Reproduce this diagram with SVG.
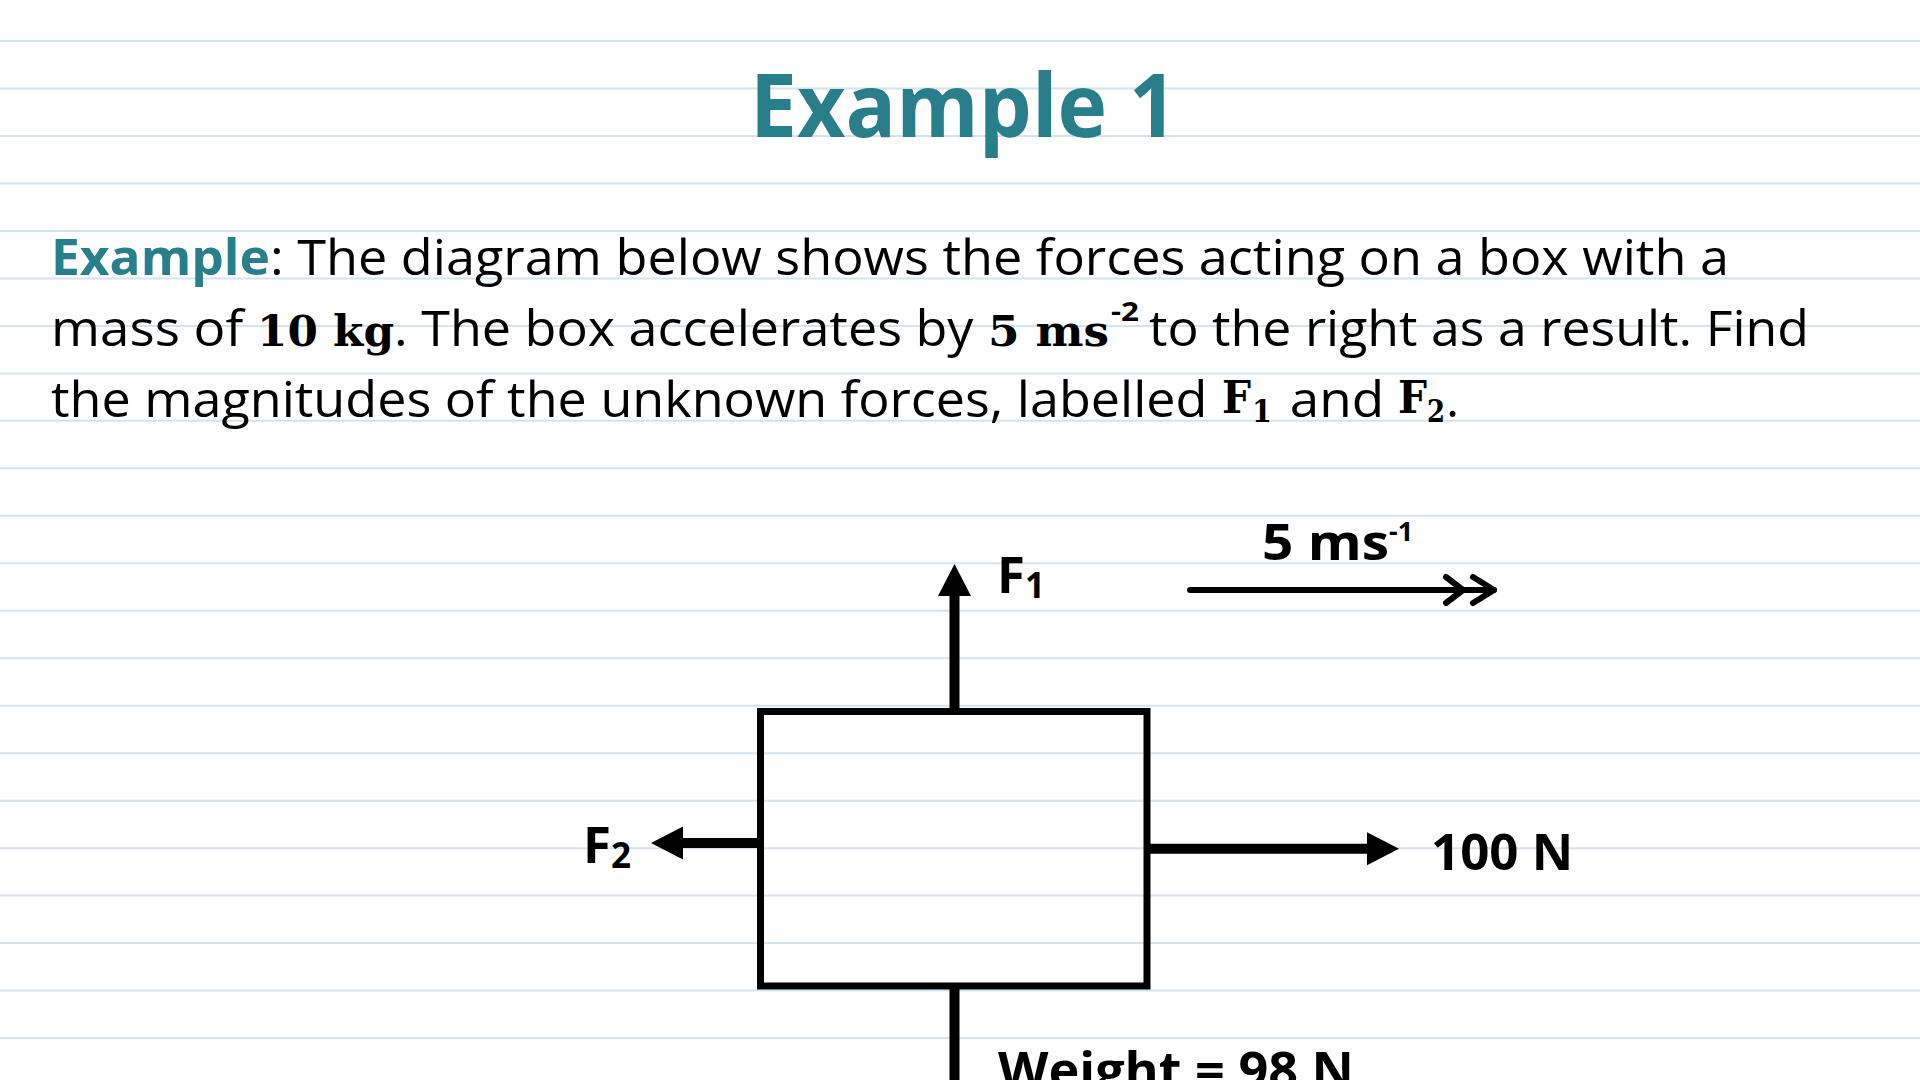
<svg xmlns="http://www.w3.org/2000/svg" width="1920" height="1080" viewBox="0 0 1920 1080">
<defs>
<style>
.rule{stroke:#d3e4ef;stroke-width:2;}
.sans{font-family:'Open Sans','Liberation Sans',sans-serif;fill:#000;white-space:pre;}
.bold{font-weight:700;}
.teal{fill:#287f8b;}
.serif{font-family:'DejaVu Serif','Liberation Serif',serif;font-weight:700;fill:#000;}
.body{font-size:50px;}
.lbl{font-family:'Open Sans','Liberation Sans',sans-serif;font-weight:700;font-size:51px;fill:#000;}
.sup{font-size:27px;}
.box{fill:none;stroke:#000;stroke-width:7;}
.force{stroke:#000;stroke-width:10;fill:none;}
.vel{stroke:#000;stroke-width:6;fill:none;stroke-linecap:round;stroke-linejoin:round;}
</style>
<marker id="head" markerUnits="userSpaceOnUse" markerWidth="34" markerHeight="34" refX="0" refY="16.5" orient="auto" overflow="visible">
<path d="M0,0 L32,16.5 L0,33 Z" fill="#000"/>
</marker>
</defs>
<rect width="1920" height="1080" fill="#fff"/>
<g id="ruled-lines">
<line class="rule" x1="0" y1="41" x2="1920" y2="41"/>
<line class="rule" x1="0" y1="88.5" x2="1920" y2="88.5"/>
<line class="rule" x1="0" y1="136" x2="1920" y2="136"/>
<line class="rule" x1="0" y1="183.4" x2="1920" y2="183.4"/>
<line class="rule" x1="0" y1="230.9" x2="1920" y2="230.9"/>
<line class="rule" x1="0" y1="278.4" x2="1920" y2="278.4"/>
<line class="rule" x1="0" y1="325.9" x2="1920" y2="325.9"/>
<line class="rule" x1="0" y1="373.4" x2="1920" y2="373.4"/>
<line class="rule" x1="0" y1="420.8" x2="1920" y2="420.8"/>
<line class="rule" x1="0" y1="468.3" x2="1920" y2="468.3"/>
<line class="rule" x1="0" y1="515.8" x2="1920" y2="515.8"/>
<line class="rule" x1="0" y1="563.3" x2="1920" y2="563.3"/>
<line class="rule" x1="0" y1="610.8" x2="1920" y2="610.8"/>
<line class="rule" x1="0" y1="658.2" x2="1920" y2="658.2"/>
<line class="rule" x1="0" y1="705.7" x2="1920" y2="705.7"/>
<line class="rule" x1="0" y1="753.2" x2="1920" y2="753.2"/>
<line class="rule" x1="0" y1="800.7" x2="1920" y2="800.7"/>
<line class="rule" x1="0" y1="848.2" x2="1920" y2="848.2"/>
<line class="rule" x1="0" y1="895.6" x2="1920" y2="895.6"/>
<line class="rule" x1="0" y1="943.1" x2="1920" y2="943.1"/>
<line class="rule" x1="0" y1="990.6" x2="1920" y2="990.6"/>
<line class="rule" x1="0" y1="1038.1" x2="1920" y2="1038.1"/>
</g>
<g id="title">
<text class="sans bold teal" x="750" y="137" font-size="87" textLength="427" lengthAdjust="spacingAndGlyphs">Example 1</text>
</g>
<g id="problem-text">
<text class="sans bold teal body" x="51" y="275" textLength="219" lengthAdjust="spacingAndGlyphs">Example</text>
<text class="sans body" x="270" y="275" textLength="1459" lengthAdjust="spacingAndGlyphs">: The diagram below shows the forces acting on a box with a</text>
<text class="sans body" xml:space="preserve" x="51" y="346" textLength="206" lengthAdjust="spacingAndGlyphs">mass of </text>
<text class="serif" x="257" y="346" font-size="43" textLength="137" lengthAdjust="spacingAndGlyphs">10 kg</text>
<text class="sans body" xml:space="preserve" x="394" y="346" textLength="593" lengthAdjust="spacingAndGlyphs">. The box accelerates by </text>
<text class="serif" x="988" y="346" font-size="43" textLength="121" lengthAdjust="spacingAndGlyphs">5 ms</text>
<text class="sans bold" x="1111" y="321" font-size="26" textLength="28" lengthAdjust="spacingAndGlyphs">-2</text>
<text class="sans body" x="1149" y="346" textLength="660" lengthAdjust="spacingAndGlyphs">to the right as a result. Find</text>
<text class="sans body" xml:space="preserve" x="51" y="417" textLength="1170" lengthAdjust="spacingAndGlyphs">the magnitudes of the unknown forces, labelled </text>
<text class="serif" x="1222" y="413" font-size="45" textLength="29" lengthAdjust="spacingAndGlyphs">F</text>
<text class="serif" x="1252" y="422" font-size="32" textLength="20" lengthAdjust="spacingAndGlyphs">1</text>
<text class="sans body" xml:space="preserve" x="1276" y="417" textLength="122" lengthAdjust="spacingAndGlyphs"> and </text>
<text class="serif" x="1398" y="413" font-size="45" textLength="29" lengthAdjust="spacingAndGlyphs">F</text>
<text class="serif" x="1427" y="422" font-size="32" textLength="18" lengthAdjust="spacingAndGlyphs">2</text>
<text class="sans body" x="1446" y="417">.</text>
</g>
<g id="box">
<rect class="box" x="760.5" y="711.5" width="386.5" height="274.5"/>
</g>
<g id="connectors">
<line id="arrow-f1" class="force" x1="954.5" y1="711" x2="954.5" y2="596" marker-end="url(#head)"/>
<line id="arrow-f2" class="force" x1="760" y1="843" x2="683" y2="843" marker-end="url(#head)"/>
<line id="arrow-100n" class="force" x1="1147" y1="848.7" x2="1367" y2="848.7" marker-end="url(#head)"/>
<line id="arrow-weight" class="force" x1="954.5" y1="986" x2="954.5" y2="1095"/>
<g id="velocity-arrow">
<line class="vel" x1="1190" y1="590" x2="1494" y2="590"/>
<path class="vel" d="M1446,577 L1463,590 L1446,603 M1473,577 L1494,590 L1473,603"/>
</g>
</g>
<g id="label-f1">
<text class="lbl" x="997" y="593">F<tspan font-size="35" dy="5">1</tspan></text>
</g>
<g id="label-f2">
<text class="lbl" x="583" y="863">F<tspan font-size="35" dy="5">2</tspan></text>
</g>
<g id="label-100n">
<text class="lbl" x="1431" y="870">100 N</text>
</g>
<g id="label-weight">
<text class="lbl" x="998" y="1088" textLength="356" lengthAdjust="spacingAndGlyphs">Weight = 98 N</text>
</g>
<g id="label-velocity">
<text class="lbl" x="1262" y="560" textLength="127" lengthAdjust="spacingAndGlyphs">5 ms</text>
<text class="lbl sup" x="1389" y="541">-1</text>
</g>
</svg>
